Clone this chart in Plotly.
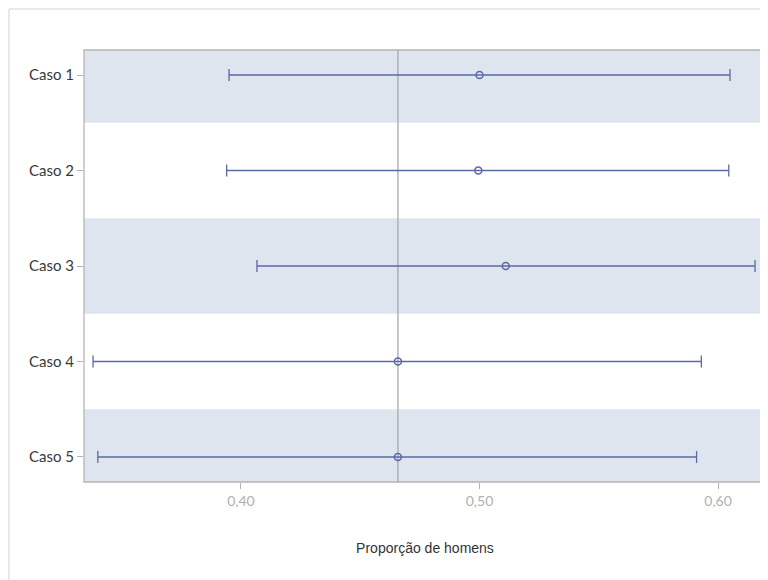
import plotly.graph_objects as go

categories = ["Caso 1", "Caso 2", "Caso 3", "Caso 4", "Caso 5"]
estimate = [0.500, 0.4995, 0.511, 0.4658, 0.4658]
lower = [0.395, 0.394, 0.4067, 0.338, 0.340]
upper = [0.605, 0.6045, 0.6155, 0.593, 0.591]
ref_value = 0.4658
x_ticks = [0.40, 0.50, 0.60]
x_ticklabels = ["0,40", "0,50", "0,60"]

W, H = 760, 574
ml, mr, mt, mb = 76, 2, 42, 100
pw, ph = W - ml - mr, H - mt - mb

line_col = "#5b6aa6"
band_col = "#dfe5ef"

fig = go.Figure()
fig.add_trace(go.Scatter(
    x=estimate, y=categories, mode="markers",
    marker=dict(symbol="circle-open", size=7, color=line_col, line=dict(width=1.5, color=line_col)),
    error_x=dict(type="data", symmetric=False,
                 array=[u - e for u, e in zip(upper, estimate)],
                 arrayminus=[e - l for e, l in zip(estimate, lower)],
                 color=line_col, thickness=1.3, width=6),
    showlegend=False, cliponaxis=False,
))

shapes = []
for i, c in enumerate(categories):
    if i % 2 == 0:
        shapes.append(dict(type="rect", xref="paper", yref="y", x0=0, x1=1,
                           y0=i - 0.5, y1=i + 0.5, fillcolor=band_col,
                           line=dict(width=0), layer="below"))
shapes.append(dict(type="line", xref="x", yref="paper", x0=ref_value, x1=ref_value,
                   y0=0, y1=1, line=dict(color="#a8a8a8", width=1.3), layer="below"))
shapes.append(dict(type="rect", xref="paper", yref="paper", x0=0, x1=1, y0=0, y1=1,
                   line=dict(color="#b4b4b4", width=1.3)))
# outer frame
shapes.append(dict(type="rect", xref="paper", yref="paper",
                   x0=(1 - ml) / pw, x1=(W + 5 - ml) / pw,
                   y0=(mb - (H + 5)) / ph, y1=(H - 1 - mb) / ph,
                   line=dict(color="#d4d4d4", width=1)))

fig.update_layout(
    width=W, height=H, margin=dict(l=ml, r=mr, t=mt, b=mb),
    paper_bgcolor="white", plot_bgcolor="white",
    separators=", ",
    font=dict(family="Lato, Noto Sans, sans-serif", size=12, color="#333333"),
    shapes=shapes,
    xaxis=dict(range=[0.3342, 0.6201], tickvals=x_ticks, ticktext=x_ticklabels,
               ticks="outside", ticklen=6, tickcolor="#b4b4b4", showgrid=False,
               zeroline=False, showline=False,
               tickfont=dict(size=14, color="#b0b0b0"),
               title=dict(text="Proporção de homens",
                          font=dict(family="Liberation Sans, Arial, sans-serif", size=14, color="#333333"),
                          standoff=35)),
    yaxis=dict(type="category", categoryorder="array", categoryarray=categories,
               range=[4.262, -0.262], ticks="outside", ticklen=6, tickcolor="#b4b4b4",
               showgrid=False, zeroline=False, showline=False,
               tickfont=dict(size=15, color="#3a3a3a")),
)

fig.write_html("out.html")
